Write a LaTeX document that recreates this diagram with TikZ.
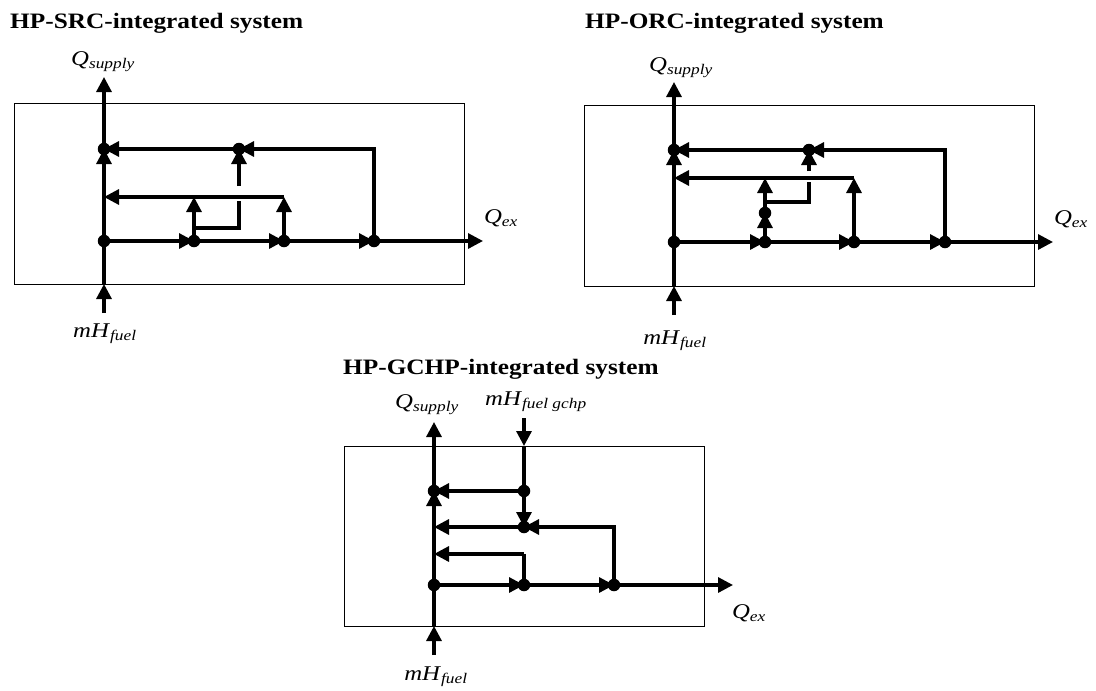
\documentclass[tikz,border=0pt]{standalone}
\usepackage{fontspec}
\setmainfont{Liberation Serif}
\usetikzlibrary{arrows.meta}
\newcommand\flab[2]{\scalebox{1.18}[1]{\textit{#1}\textsubscript{\textit{#2}}}}
\begin{document}
\begin{tikzpicture}[x=1pt,y=-1pt,
  flow/.style={line width=3.2pt},
  arr/.style={flow,-{Triangle[length=15pt,width=15pt]}},
  dot/.style={circle,fill=black,inner sep=0pt,minimum size=12.5pt},
  sysbox/.style={draw,line width=1.4pt,inner sep=0pt,anchor=north west},
  ttl/.style={font=\fontsize{22}{24}\selectfont\bfseries,anchor=base west,inner sep=0pt},
  lab/.style={font=\fontsize{21}{23}\selectfont,inner sep=0pt}]
\useasboundingbox (0,0) rectangle (1096,691);

% ---------------- titles
\node[ttl] (t1) at (10,28) {\scalebox{1.15}[1]{HP-SRC-integrated system}};
\node[ttl] (t2) at (585,28) {\scalebox{1.15}[1]{HP-ORC-integrated system}};
\node[ttl] (t3) at (343,374) {\scalebox{1.15}[1]{HP-GCHP-integrated system}};

% ---------------- diagram 1 (SRC)
\node[sysbox,minimum width=450pt,minimum height=181pt] (box1) at (14,103) {};
\node[dot] (a1) at (104,241) {};
\node[dot] (b1) at (194,241) {};
\node[dot] (c1) at (284,241) {};
\node[dot] (d1) at (374,241) {};
\node[dot] (e1) at (104,149) {};
\node[dot] (f1) at (239,149) {};
\coordinate (in1) at (104,313);
\coordinate (bb1) at (104,284);
\coordinate (out1) at (104,77);
\coordinate (ex1) at (483,241);
\coordinate (r1a) at (194,197);
\coordinate (r1b) at (284,197);
\coordinate (r1c) at (104,197);
\coordinate (k1a) at (194,228);
\coordinate (k1b) at (239,228);
\coordinate (k1c) at (239,201);
\coordinate (k1d) at (239,186);
\draw[arr] (in1) -- (bb1);
\draw[flow] (bb1) -- (a1.center);
\draw[arr] (a1.center) -- (e1.center);
\draw[arr] (e1.center) -- (out1);
\draw[arr] (a1.center) -- (b1.center);
\draw[arr] (b1.center) -- (c1.center);
\draw[arr] (c1.center) -- (d1.center);
\draw[arr] (d1.center) -- (ex1);
\draw[arr] (b1.center) -- (r1a);
\draw[arr] (c1.center) -- (r1b);
\draw[arr] (r1b) -- (r1c);
\draw[flow] (k1a) -- (k1b) -- (k1c);
\draw[arr] (k1d) -- (f1.center);
\draw[arr] (d1.center) |- (f1.center);
\draw[arr] (f1.center) -- (e1.center);
\node[lab] (q1) at (103,62) {\flab{Q}{supply}};
\node[lab] (x1) at (501,218) {\flab{Q}{ex}};
\node[lab] (m1) at (105,334) {\flab{mH}{fuel}};

% ---------------- diagram 2 (ORC)
\node[sysbox,minimum width=450pt,minimum height=181pt] (box2) at (584,105) {};
\node[dot] (a2) at (674,242) {};
\node[dot] (b2) at (765,242) {};
\node[dot] (c2) at (854,242) {};
\node[dot] (d2) at (945,242) {};
\node[dot] (e2) at (674,150) {};
\node[dot] (f2) at (809,150) {};
\node[dot] (g2) at (765,213) {};
\coordinate (in2) at (674,315);
\coordinate (bb2) at (674,286);
\coordinate (out2) at (674,82);
\coordinate (ex2) at (1053,242);
\coordinate (r2a) at (765,178);
\coordinate (r2b) at (854,178);
\coordinate (r2c) at (674,178);
\coordinate (k2a) at (765,202);
\coordinate (k2b) at (809,202);
\coordinate (k2c) at (809,182);
\coordinate (k2d) at (809,171);
\draw[arr] (in2) -- (bb2);
\draw[flow] (bb2) -- (a2.center);
\draw[arr] (a2.center) -- (e2.center);
\draw[arr] (e2.center) -- (out2);
\draw[arr] (a2.center) -- (b2.center);
\draw[arr] (b2.center) -- (c2.center);
\draw[arr] (c2.center) -- (d2.center);
\draw[arr] (d2.center) -- (ex2);
\draw[arr] (b2.center) -- (g2.center);
\draw[arr] (g2.center) -- (r2a);
\draw[arr] (c2.center) -- (r2b);
\draw[arr] (r2b) -- (r2c);
\draw[flow] (k2a) -- (k2b) -- (k2c);
\draw[arr] (k2d) -- (f2.center);
\draw[arr] (d2.center) |- (f2.center);
\draw[arr] (f2.center) -- (e2.center);
\node[lab] (q2) at (681,68) {\flab{Q}{supply}};
\node[lab] (x2) at (1071,219) {\flab{Q}{ex}};
\node[lab] (m2) at (675,341) {\flab{mH}{fuel}};

% ---------------- diagram 3 (GCHP)
\node[sysbox,minimum width=360pt,minimum height=180pt] (box3) at (344,446) {};
\node[dot] (a3) at (434,585) {};
\node[dot] (b3) at (524,585) {};
\node[dot] (c3) at (614,585) {};
\node[dot] (e3) at (434,491) {};
\node[dot] (g3) at (524,491) {};
\node[dot] (h3) at (524,527) {};
\coordinate (in3) at (434,655);
\coordinate (bb3) at (434,626);
\coordinate (out3) at (434,422);
\coordinate (ex3) at (733,585);
\coordinate (gin) at (524,418);
\coordinate (gbt) at (524,446);
\coordinate (r3a) at (434,527);
\coordinate (r3b) at (524,554);
\coordinate (r3c) at (434,554);
\draw[arr] (in3) -- (bb3);
\draw[flow] (bb3) -- (a3.center);
\draw[arr] (a3.center) -- (e3.center);
\draw[arr] (e3.center) -- (out3);
\draw[arr] (a3.center) -- (b3.center);
\draw[arr] (b3.center) -- (c3.center);
\draw[arr] (c3.center) -- (ex3);
\draw[arr] (gin) -- (gbt);
\draw[flow] (gbt) -- (g3.center);
\draw[arr] (g3.center) -- (h3.center);
\draw[arr] (g3.center) -- (e3.center);
\draw[arr] (c3.center) |- (h3.center);
\draw[arr] (h3.center) -- (r3a);
\draw[flow] (b3.center) -- (r3b);
\draw[arr] (r3b) -- (r3c);
\node[lab] (q3) at (427,405) {\flab{Q}{supply}};
\node[lab] (mg) at (536,402) {\flab{mH}{fuel gchp}};
\node[lab] (x3) at (749,613) {\flab{Q}{ex}};
\node[lab] (m3) at (436,677) {\flab{mH}{fuel}};
\end{tikzpicture}
\end{document}
